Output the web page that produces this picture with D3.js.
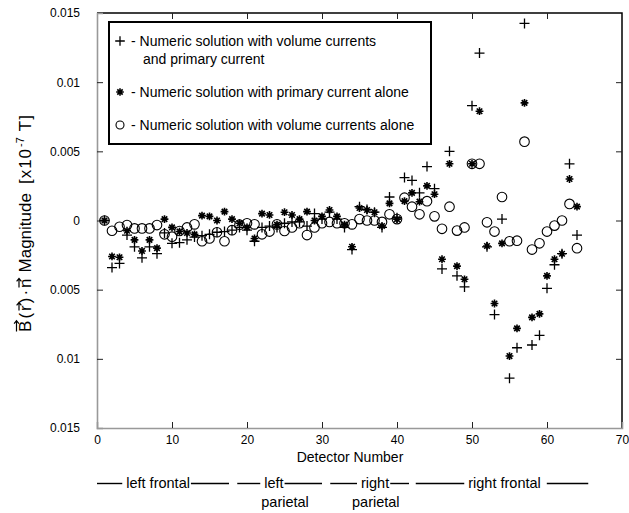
<!DOCTYPE html>
<html>
<head>
<meta charset="utf-8">
<script src="https://cdn.jsdelivr.net/npm/d3@7/dist/d3.min.js"></script>
<style>
  body { margin: 0; background: #fff; }
  svg { display: block; font-family: "Liberation Sans", Arial, Helvetica, sans-serif; }
</style>
</head>
<body>
<div id="chart"></div>
<script>
// detector numbers 1..64
var detectors = d3.range(1, 65);

// + : volume currents and primary current
var bothCurrents = [
    0, -0.0034, -0.0031, -0.00105, -0.0019, -0.0027, -0.0019, -0.0024, -0.0009, -0.00165,
    -0.0016, -0.0014, -0.0012, -0.0011, -0.001, -0.00085, -0.0008, -0.0007, -0.0005, -0.0007,
    -0.0015, -0.0005, -0.0004, -0.0005, -0.0002, -0.0001, -0.0001, -0.0004, 0.0005, 0.0001,
    0.0006, 0.0001, -0.0005, -0.0021, 0.001, 0.0008, 0.0006, -0.0005, 0.0017, 0.0002,
    0.0031, 0.0029, 0.002, 0.0039, 0.0023, -0.0035, 0.005, -0.004, -0.0048, 0.0083,
    0.0121, -0.0019, -0.0068, 0.0001, -0.0114, -0.0092, 0.01425, -0.009, -0.0083, -0.0049,
    -0.0032, -0.0024, 0.0041, -0.00105
];

// * : primary current alone
var primaryAlone = [
    0, -0.0026, -0.00266, -0.00074, -0.0014, -0.0022, -0.0014, -0.002, 0.0001, -0.0005,
    -0.0008, -0.0009, -0.001, 0.00035, 0.0003, 0, 0.00064, 0.0001, -0.0002, -0.0005,
    -0.0013, 0.0005, 0.0004, -0.0003, 0.0006, 0.0004, 0.0001, 0.00064, 0, 0.0003,
    0.00076, 0.0003, -0.0003, -0.0019, 0.0009, 0.00076, 0.0006, -0.0004, 0.00124, 0.0001,
    0.0014, 0.002, 0.00136, 0.0025, 0.0019, -0.0028, 0.0041, -0.0033, -0.00425, 0.0041,
    0.0079, -0.00184, -0.006, -0.00165, -0.0098, -0.0078, 0.0085, -0.007, -0.00675, -0.004,
    -0.0028, -0.0024, 0.003, 0.001
];

// o : volume currents alone
var volumeAlone = [
    0, -0.00074, -0.00045, -0.00033, -0.00057, -0.00057, -0.00057, -0.00033, -0.001, -0.00117,
    -0.00076, -0.0005, -0.00028, -0.0015, -0.0013, -0.00085, -0.0015, -0.0007, -0.0003, -0.0002,
    -0.00028, -0.001, -0.0008, -0.00028, -0.00076, -0.0005, -0.0002, -0.00105, -0.0005, -0.0002,
    -0.0001, -0.0002, -0.0002, -0.00028, 0.0001, 0, 0, -0.0001, 0.00045, 0.0001,
    0.00165, 0.001, 0.00045, 0.0014, 0.0003, -0.0006, 0.001, -0.00073, -0.0005, 0.0041,
    0.0041, -0.00013, -0.0008, 0.0017, -0.0015, -0.00146, 0.0057, -0.0021, -0.00165, -0.0008,
    -0.00037, 0, 0.0012, -0.002
];

var xTicks = [0, 10, 20, 30, 40, 50, 60, 70];
var yTicks = [-0.015, -0.01, -0.005, 0, 0.005, 0.01, 0.015];

var legendLabels = [
    ['- Numeric solution with volume currents', 'and primary current'],
    ['- Numeric solution with primary current alone'],
    ['- Numeric solution with volume currents alone']
];

// head regions under the x axis (detector units)
var regionTop = ['left frontal', 'left', 'right', 'right frontal'];
var regionBottom = ['', 'parietal', 'parietal', ''];
var regionFrom = [0, 18.7, 31.1, 42.5];
var regionTo = [17.6, 30, 41.6, 65.5];
var regionTextAt = [3.9, 22.3, 35.2, 49.5];
var regionSubAt = [0, 21.9, 34, 0];

var width = 629, height = 513;
var margin = {top: 13, right: 7, bottom: 85, left: 97};

var svg = d3.select('#chart')
    .append('svg')
    .attr('width', width)
    .attr('height', height);

var x = d3.scaleLinear().domain([0, 70]).range([margin.left, width - margin.right]);
var y = d3.scaleLinear().domain([-0.015, 0.015]).range([height - margin.bottom, margin.top]);

var fmtAbs = function (d) { return String(+Math.abs(d).toFixed(3)); };

// frame: top and right in black
svg.append('path')
    .attr('d', 'M' + x(0) + ',' + y(0.015) + 'H' + x(70) + 'V' + y(-0.015))
    .attr('fill', 'none')
    .attr('stroke', '#000')
    .attr('stroke-width', 1.5);

var topAxis = svg.append('g')
    .attr('transform', 'translate(0,' + y(0.015) + ')')
    .call(d3.axisTop(x).tickValues(xTicks.slice(1, -1)).tickSize(-6).tickFormat(''));
var rightAxis = svg.append('g')
    .attr('transform', 'translate(' + x(70) + ',0)')
    .call(d3.axisRight(y).tickValues(yTicks.slice(1, -1)).tickSize(-6).tickFormat(''));
topAxis.select('.domain').remove();
rightAxis.select('.domain').remove();

var bottomAxis = svg.append('g')
    .attr('transform', 'translate(0,' + y(-0.015) + ')')
    .call(d3.axisBottom(x).tickValues(xTicks).tickSize(-6).tickPadding(7));
var leftAxis = svg.append('g')
    .attr('transform', 'translate(' + x(0) + ',0)')
    .call(d3.axisLeft(y).tickValues(yTicks).tickSize(-6).tickPadding(17).tickFormat(fmtAbs));

[bottomAxis, leftAxis].forEach(function (g) {
    g.select('.domain').attr('stroke', '#999').attr('stroke-width', 1.6);
    g.selectAll('text').attr('font-size', 12).attr('fill', '#000')
        .attr('font-family', '"Liberation Sans", Arial, sans-serif');
});
bottomAxis.selectAll('.tick line').filter(function (d) { return d === 0 || d === 70; }).remove();
leftAxis.selectAll('.tick line').filter(function (d) { return Math.abs(d) === 0.015; }).remove();
svg.selectAll('.tick line').attr('stroke', '#222');

// markers
function plus(g, s) {
    g.append('path').attr('d', 'M' + (-s) + ',0H' + s + 'M0,' + (-s) + 'V' + s)
        .attr('stroke', '#000').attr('stroke-width', 1.3).attr('fill', 'none');
}
function star(g, s) {
    var d = '', k = s * Math.SQRT1_2;
    d += 'M' + (-s) + ',0H' + s + 'M0,' + (-s) + 'V' + s;
    d += 'M' + (-k) + ',' + (-k) + 'L' + k + ',' + k + 'M' + (-k) + ',' + k + 'L' + k + ',' + (-k);
    g.append('path').attr('d', d).attr('stroke', '#000').attr('stroke-width', 1.6).attr('fill', 'none');
    g.append('circle').attr('r', 1.6).attr('fill', '#000');
}
function ring(g, s) {
    g.append('circle').attr('r', s).attr('fill', 'none').attr('stroke', '#000').attr('stroke-width', 1.1);
}

function drawSeries(values, marker, size) {
    svg.append('g')
        .selectAll('g')
        .data(detectors)
        .enter()
        .append('g')
        .attr('transform', function (d, i) { return 'translate(' + x(d) + ',' + y(values[i]) + ')'; })
        .each(function () { marker(d3.select(this), size); });
}
drawSeries(volumeAlone, ring, 4.8);
drawSeries(primaryAlone, star, 3.9);
drawSeries(bothCurrents, plus, 5);

// legend
var legend = svg.append('g');
legend.append('rect')
    .attr('x', 109).attr('y', 22).attr('width', 322).attr('height', 122)
    .attr('fill', '#fff').attr('stroke', '#000').attr('stroke-width', 2);
var legendMarkers = [plus, star, ring];
var legendSizes = [4.8, 3.8, 4];
var legendY = [41, 92, 125];
legendLabels.forEach(function (lines, i) {
    var m = legend.append('g').attr('transform', 'translate(120,' + legendY[i] + ')');
    legendMarkers[i](m, legendSizes[i]);
    lines.forEach(function (t, j) {
        legend.append('text')
            .attr('x', j === 0 ? 131 : 143)
            .attr('y', legendY[i] + 5 + j * 18)
            .attr('font-size', 14)
            .text(t);
    });
});

// x title
svg.append('text')
    .attr('x', 350).attr('y', 462)
    .attr('text-anchor', 'middle')
    .attr('font-size', 14)
    .text('Detector Number');

// y title with vector arrows
var yt = svg.append('g').attr('transform', 'translate(31,223) rotate(-90)');
var ytText = yt.append('text').attr('text-anchor', 'middle').attr('font-size', 17);
['B', '(', 'r', ')', '\u00b7', 'n'].forEach(function (c, i) {
    ytText.append('tspan').attr('dx', i === 0 ? 0 : 2).text(c);
});
ytText.append('tspan').attr('dx', 6).text('Magnitude');
ytText.append('tspan').attr('dx', 9).attr('letter-spacing', 1).text('[x10');
ytText.append('tspan').attr('dy', -7).attr('dx', 1).attr('font-size', 11).text('-7');
ytText.append('tspan').attr('dy', 7).attr('dx', 6).attr('letter-spacing', 1).text('T]');
[0, 2, 5].forEach(function (ci) {
    var e = ytText.node().getExtentOfChar(ci);
    var ay = ci === 0 ? e.y + 0.5 : e.y + 3;
    var x0 = e.x + 0.5, x1 = e.x + Math.max(e.width, 8.5);
    yt.append('path')
        .attr('d', 'M' + x0 + ',' + ay + 'H' + x1 + 'M' + (x1 - 3) + ',' + (ay - 2.4) + 'L' + x1 + ',' + ay + 'L' + (x1 - 3) + ',' + (ay + 2.4))
        .attr('fill', 'none').attr('stroke', '#000').attr('stroke-width', 1.2);
});

// regions under the axis
var rowY = 488, lineY = 483.5;
regionTop.forEach(function (name, i) {
    var t = svg.append('text')
        .attr('x', x(regionTextAt[i])).attr('y', rowY)
        .attr('font-size', 14.5)
        .text(name);
    var w = t.node().getComputedTextLength();
    svg.append('line')
        .attr('x1', x(regionFrom[i])).attr('x2', x(regionTextAt[i]) - 4)
        .attr('y1', lineY).attr('y2', lineY)
        .attr('stroke', '#000').attr('stroke-width', 1.4);
    svg.append('line')
        .attr('x1', x(regionTextAt[i]) + w + (i === 3 ? 6 : 1)).attr('x2', x(regionTo[i]))
        .attr('y1', lineY).attr('y2', lineY)
        .attr('stroke', '#000').attr('stroke-width', 1.4);
    if (regionBottom[i]) {
        svg.append('text')
            .attr('x', x(regionSubAt[i])).attr('y', rowY + 19)
            .attr('font-size', 14.5)
            .text(regionBottom[i]);
    }
});
</script>
</body>
</html>
